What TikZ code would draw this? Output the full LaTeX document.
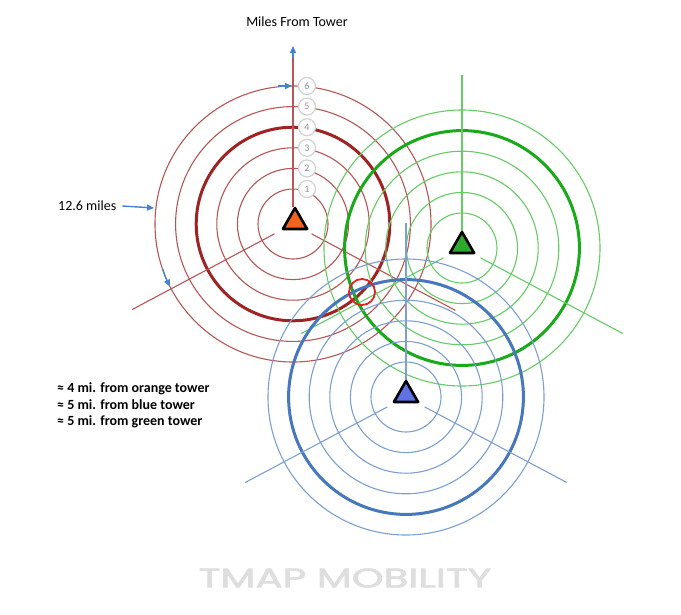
\documentclass[tikz,border=0pt]{standalone}
\usepackage{fontspec}
\setmainfont{Carlito}
\newfontfamily\wmfont[FakeBold=2]{Poppins}
\usetikzlibrary{arrows.meta,shapes.geometric,calc}
\definecolor{otn}{RGB}{185,85,85}
\definecolor{otk}{RGB}{160,35,35}
\definecolor{gtn}{RGB}{100,205,100}
\definecolor{gtk}{RGB}{25,170,25}
\definecolor{btn}{RGB}{125,160,210}
\definecolor{btk}{RGB}{70,120,190}
\definecolor{arrowblue}{RGB}{70,130,205}
\definecolor{ofill}{RGB}{240,100,30}
\definecolor{gfill}{RGB}{45,170,45}
\definecolor{bfill}{RGB}{95,115,230}
\definecolor{hitred}{RGB}{225,35,40}
\definecolor{wmgray}{RGB}{222,222,222}
\begin{document}
\begin{tikzpicture}[x=1pt,y=-1pt,
  thinring/.style={line width=1.1pt},
  thickring/.style={line width=3pt},
  tower/.style={regular polygon, regular polygon sides=3, draw=black, line width=2.6pt, minimum size=28pt, inner sep=0pt, line join=round},
  milelabel/.style={circle, draw=gray!35, line width=1.2pt, fill=white, minimum size=17pt, inner sep=0pt, text=gray!85, font=\fontsize{10}{10}\selectfont},
  barrow/.style={arrowblue, line width=1.4pt, -{Triangle[length=7pt,width=6pt]}},
  txt/.style={font=\fontsize{14}{14}\selectfont, text=black, inner sep=0pt},
  legend/.style={font=\bfseries\fontsize{14}{14}\selectfont, text=black, inner sep=0pt, anchor=west},
]
\fill[white] (0,0) rectangle (681,614);
\useasboundingbox (0,0) rectangle (681,614);

% centres
\coordinate (O) at (293,224);
\coordinate (G) at (462,248);
\coordinate (B) at (406,397);

% ---------- orange tower rings ----------
\foreach \r in {35,55.6,76.2,117.4,138} \draw[otn,thinring] (O) circle[radius=\r];
\draw[otk,thickring] (O) circle[radius=96.8];
\coordinate (Oa1) at ($(O)+(152:21)$); \coordinate (Oa2) at ($(O)+(152:182)$);
\coordinate (Ob1) at ($(O)+(28:21)$);  \coordinate (Ob2) at ($(O)+(28:184)$);
\coordinate (Ov1) at (293,207); \coordinate (Ov2) at (293,50);
\draw[otn,thinring] (Oa1) -- (Oa2);
\draw[otn,thinring] (Ob1) -- (Ob2);
\draw[otn,thinring] (Ov1) -- (Ov2);

% ---------- green tower rings ----------
\foreach \r in {35,55.6,76.2,96.8,138} \draw[gtn,thinring] (G) circle[radius=\r];
\draw[gtk,thickring] (G) circle[radius=117.4];
\coordinate (Ga1) at ($(G)+(152:21)$); \coordinate (Ga2) at ($(G)+(152:182)$);
\coordinate (Gb1) at ($(G)+(28:21)$);  \coordinate (Gb2) at ($(G)+(28:182)$);
\coordinate (Gv1) at (462,233); \coordinate (Gv2) at (462,75);
\draw[gtn,thinring] (Ga1) -- (Ga2);
\draw[gtn,thinring] (Gb1) -- (Gb2);
\draw[gtn,thinring] (Gv1) -- (Gv2);

% ---------- blue tower rings ----------
\foreach \r in {35,55.6,76.2,96.8,138} \draw[btn,thinring] (B) circle[radius=\r];
\draw[btk,thickring] (B) circle[radius=117.4];
\coordinate (Ba1) at ($(B)+(152:21)$); \coordinate (Ba2) at ($(B)+(152:182)$);
\coordinate (Bb1) at ($(B)+(28:21)$);  \coordinate (Bb2) at ($(B)+(28:182)$);
\coordinate (Bv1) at (406,381); \coordinate (Bv2) at (406,223);
\draw[btn,thinring] (Ba1) -- (Ba2);
\draw[btn,thinring] (Bb1) -- (Bb2);
\draw[btn,thinring] (Bv1) -- (Bv2);

% ---------- towers ----------
\node[tower, fill=ofill] (to) at (295,222) {};
\node[tower, fill=gfill] (tg) at (462,246) {};
\node[tower, fill=bfill] (tb) at (406,395) {};

% ---------- mile labels ----------
\foreach \r [count=\k] in {35,55.6,76.2,96.8,117.4,138}
  \node[milelabel] (l\k) at (307,224-\r) {\k};

% ---------- axis arrow and title ----------
\coordinate (axtop) at (293,46);
\coordinate (axbase) at (293,58);
\draw[barrow] (axbase) -- (axtop);
\node[txt] (title) at (297,22) {Miles From Tower};

% arrow to ring 6 at top
\coordinate (r6a) at (278,86);
\coordinate (r6b) at (292,86);
\draw[barrow] (r6a) -- (r6b);

% arrow on ring 6 lower left
\coordinate (arcst) at ($(O)+(161:138)$);
\draw[barrow] (arcst) arc[start angle=161, end angle=153, radius=138];

% 12.6 miles
\node[txt, anchor=west] (mi) at (58,206) {12.6 miles};
\coordinate (mitip) at (154,208);
\draw[barrow] ([xshift=6pt]mi.east) -- (mitip);

% intersection marker
\node[circle, draw=hitred, line width=1.8pt, minimum size=26pt, inner sep=0pt] (hit) at (362,292) {};

% legend
\node[legend] (lg1) at (57,389) {≈ 4 mi. from orange tower};
\node[legend] (lg2) at (57,405) {≈ 5 mi. from blue tower};
\node[legend] (lg3) at (57,422) {≈ 5 mi. from green tower};

% watermark
\node[font=\wmfont\fontsize{27}{27}\selectfont, text=wmgray, inner sep=0pt] (wm) at (345,578) {\scalebox{1.5}[1]{TMAP MOBILITY}};
\end{tikzpicture}
\end{document}
